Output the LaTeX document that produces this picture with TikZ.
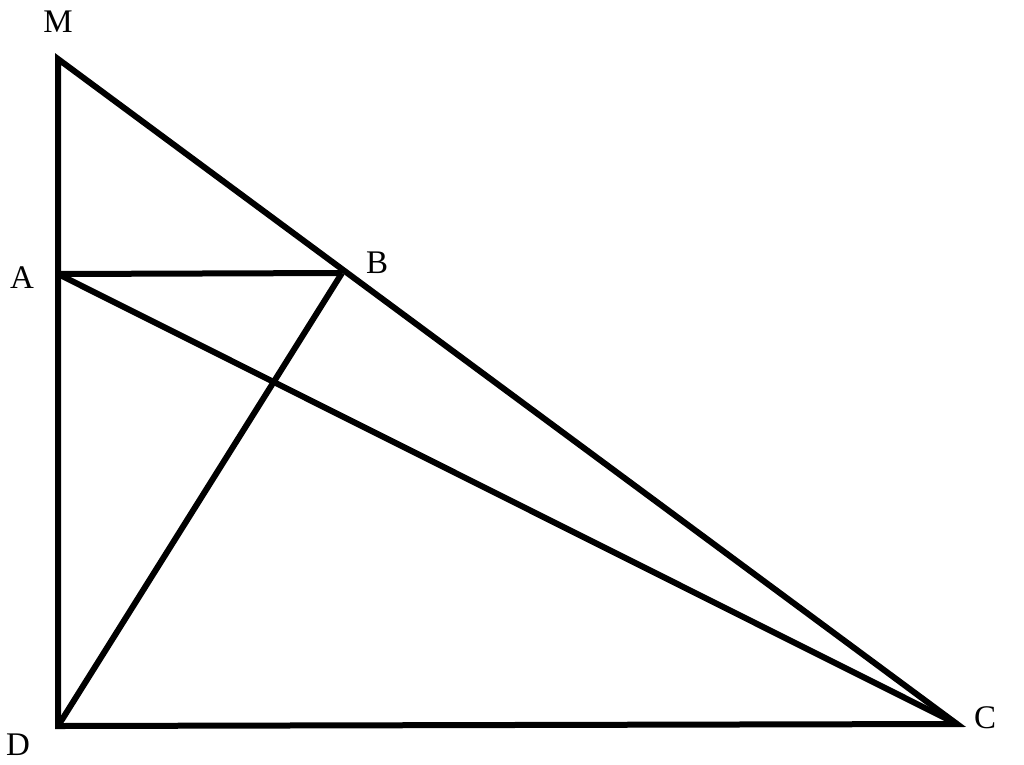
\documentclass[tikz,border=0pt]{standalone}
\usepackage{fontspec}
\setmainfont{Liberation Serif}
\usetikzlibrary{positioning}

\begin{document}
\begin{tikzpicture}[x=1pt,y=-1pt]
            \tikzset{edge/.style={line width=6pt, line join=miter},
                     lbl/.style={font=\fontsize{33}{36}\selectfont, inner sep=0pt}}
            \useasboundingbox (0,0) rectangle (1024,764);
            \coordinate (M) at (58,59);
            \coordinate (A) at (58,274);
            \coordinate (B) at (342,273);
            \coordinate (D) at (58,726);
            \coordinate (C) at (957,724);
            \node (lM) at (58,22) [lbl]{M};
            \node (lA) at (22,278) [lbl]{A};
            \node (lB) at (377,263) [lbl]{B};
            \node (lD) at (18,745) [lbl]{D};
            \node (lC) at (985,718) [lbl]{C};
            \draw[edge] (M) -- (D) -- (C) -- cycle;
            \draw[edge] (A) -- (B);
            \draw[edge] (A) -- (C);
            \draw[edge] (B) -- (D);

        \end{tikzpicture}
\end{document}
